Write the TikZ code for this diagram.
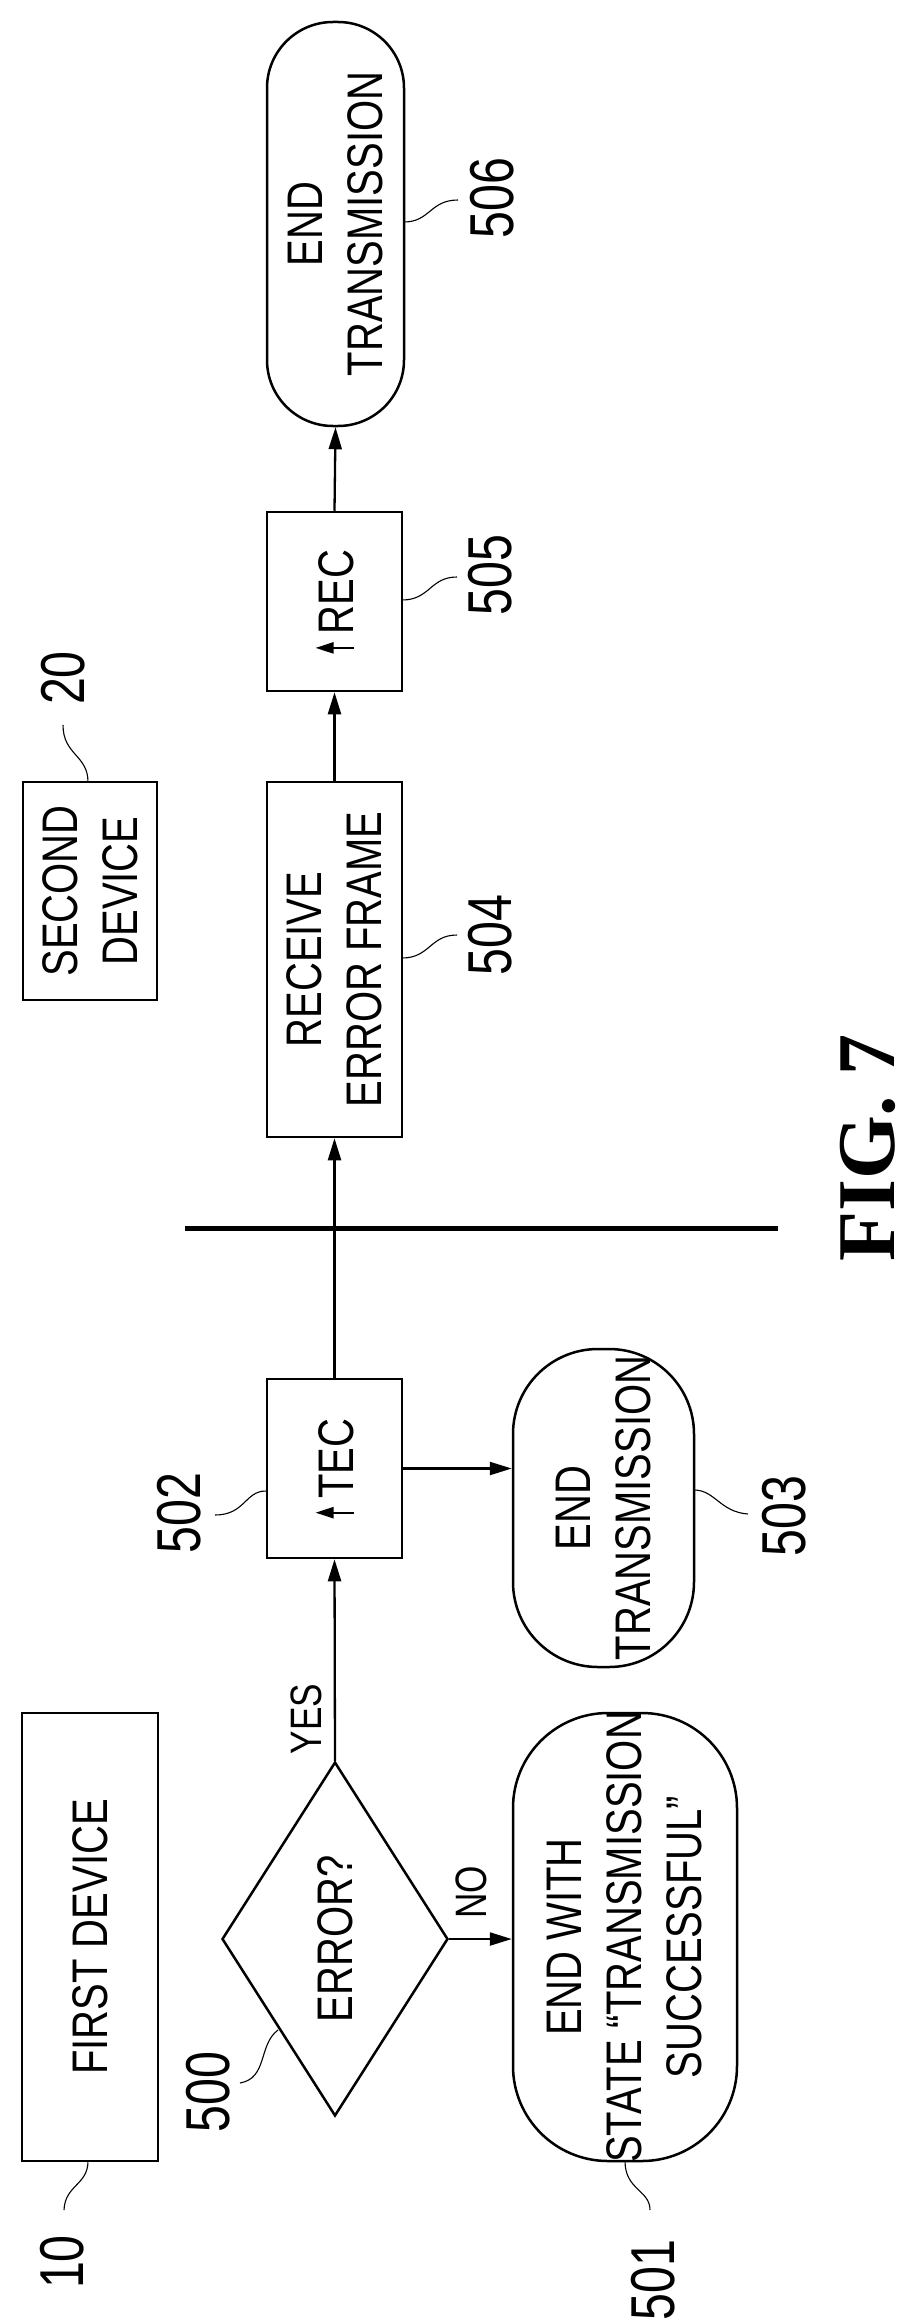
\documentclass[tikz,border=0pt]{standalone}
\usepackage{fontspec}
\setmainfont{Liberation Sans}[FakeStretch=0.8]
\newfontfamily\numfont{Liberation Sans}[FakeStretch=0.78]
\newfontfamily\figfont{Liberation Serif}
\usetikzlibrary{shapes.geometric,arrows.meta}
\begin{document}
\begin{tikzpicture}[x=1pt,y=-1pt,
  box/.style={draw,line width=2.5pt,rectangle,inner sep=0pt},
  term/.style={box,rounded corners=#1},
  txt/.style={rotate=90,font=\fontsize{50}{60}\selectfont,align=center,inner sep=0pt},
  num/.style={rotate=90,font=\numfont\fontsize{62}{64}\selectfont,inner sep=0pt},
  arr/.style={line width=2.3pt,-{Triangle[length=22pt,width=13pt]}},
  lead/.style={line width=1.1pt}]
\useasboundingbox (0,0) rectangle (910,2320);
\fill[white] (0,0) rectangle (910,2320);
% shapes
\node[box,minimum width=136,minimum height=448] (fd) at (90,1937) {};
\node[box,minimum width=134,minimum height=218] (sd) at (90,891) {};
\node[draw,line width=2.5pt,diamond,inner sep=0pt,minimum width=226,minimum height=354] (dia) at (335,1939) {};
\node[box,minimum width=135,minimum height=179] (tec) at (334.5,1468.5) {};
\node[term=95pt,minimum width=224,minimum height=448] (e501) at (625,1937) {};
\node[term=85pt,minimum width=181,minimum height=318] (e503) at (603.5,1508) {};
\node[box,minimum width=135,minimum height=355] (rf) at (334.5,959.5) {};
\node[box,minimum width=135,minimum height=179] (rec) at (334.5,601.5) {};
\node[term=66pt,minimum width=137,minimum height=404] (e506) at (335.5,224) {};
% texts
\node[txt] (tfd) at (fd) {FIRST DEVICE};
\node[txt] (tsd) at (sd) {SECOND\\DEVICE};
\node[txt] (tdia) at (dia) {ERROR?};
\newcommand{\uparr}{\tikz[baseline=0pt]\draw[line width=2.2pt,-{Triangle[length=18pt,width=11pt]}] (0,0)--(0,38pt);}
\node[txt] (ttec) at (tec) {\uparr\,TEC};
\node[txt] (t501) at (e501) {END WITH\\STATE “TRANSMISSION\\SUCCESSFUL”};
\node[txt] (t503) at (e503) {END\\TRANSMISSION};
\node[txt] (trf) at (rf) {RECEIVE\\ERROR FRAME};
\node[txt] (trec) at (rec) {\uparr\,REC};
\node[txt] (t506) at (e506) {END\\TRANSMISSION};
\node[txt,font=\fontsize{44}{50}\selectfont] (yes) at (306,1719) {YES};
\node[txt,font=\fontsize{44}{50}\selectfont] (no) at (471,1892) {NO};
% connectors
\draw[arr] (dia.north) -- (tec.south);
\draw[arr] (dia.east) -- (e501.west |- dia.east);
\draw[arr] (tec.east) -- (tec.east -| e503.west);
\draw[arr] (tec.north) -- (rf.south);
\draw[arr] (rf.north) -- (rec.south);
\draw[arr] (rec.north) -- (e506.south);
% separator
\coordinate (s1) at (185,1228);
\coordinate (s2) at (778,1228);
\draw[line width=5pt] (s1) -- (s2);
% reference numbers
\node[num] (n10) at (62,2262) {10};
\node[num] (n20) at (63,678) {20};
\node[num] (n500) at (208,2092) {500};
\node[num] (n501) at (653,2280) {501};
\node[num] (n502) at (179,1513) {502};
\node[num] (n503) at (784,1516) {503};
\node[num] (n504) at (490,935) {504};
\node[num] (n505) at (490,575) {505};
\node[num] (n506) at (492,198) {506};
% leaders
\draw[lead] (88,2161) .. controls (88,2185) and (65,2185) .. (64,2210);
\draw[lead] (88,782) .. controls (88,755) and (63,755) .. (63,725);
\draw[lead] (278,2030) .. controls (258,2045) and (268,2078) .. (240,2083);
\draw[lead] (625,2161) .. controls (625,2190) and (650,2190) .. (650,2210);
\draw[lead] (tec.west |- 0,1491) .. controls (245,1491) and (245,1515) .. (215,1515);
\draw[lead] (694,1490) .. controls (715,1490) and (720,1512) .. (748,1514);
\draw[lead] (402,958) .. controls (430,958) and (430,935) .. (457,935);
\draw[lead] (402,600) .. controls (430,600) and (430,577) .. (457,577);
\draw[lead] (404,222) .. controls (430,222) and (430,200) .. (458,200);
% figure caption
\node[rotate=90,font=\figfont\bfseries\fontsize{82}{90}\selectfont,inner sep=0pt] (fig) at (868,1148) {FIG. 7};
\end{tikzpicture}
\end{document}
